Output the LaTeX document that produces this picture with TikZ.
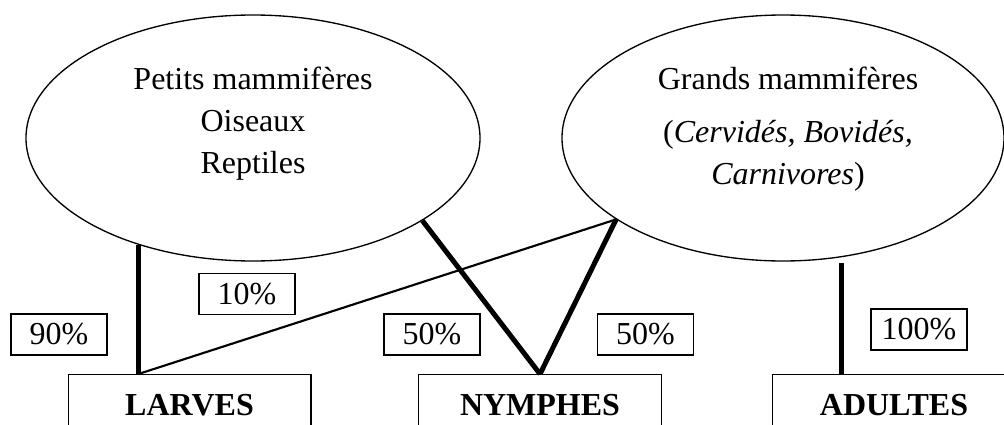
\documentclass[tikz,border=0pt]{standalone}
\usepackage{fontspec}
\setmainfont{Liberation Serif}
\usepackage{tikz}
\usetikzlibrary{shapes,positioning}
\tikzstyle{host} = [ellipse, draw, line width=1pt, inner sep=0pt]
\tikzstyle{hosttext} = [align=center, inner sep=0pt, anchor=north, font=\fontsize{24pt}{31.5pt}\selectfont]
\tikzstyle{stage} = [rectangle, draw, line width=1pt, minimum width=182pt, minimum height=45pt, inner sep=0pt, anchor=north, font=\fontsize{24pt}{31.5pt}\selectfont\bfseries]
\tikzstyle{pct} = [rectangle, draw, line width=1pt, minimum width=72pt, minimum height=30.75pt, inner sep=0pt, font=\fontsize{24pt}{31.5pt}\selectfont]
\tikzstyle{heavy} = [line width=3.75pt]
\tikzstyle{light} = [line width=1.6pt]

\begin{document}
\begin{tikzpicture}[x=0.75pt, y=-0.75pt]
\useasboundingbox (0,0) rectangle (1004,425);
\clip (0,0) rectangle (1004,425);

% Hosts
\node (pm) [host, minimum width=340.5pt, minimum height=184.5pt] at (253,138) {};
\node (pmtext) [hosttext] at (253,67) {Petits mammifères\\Oiseaux\\Reptiles};
\node (gm) [host, minimum width=331.5pt, minimum height=184.5pt] at (783,138) {};
\node (gmtext) [hosttext] at (788,67) {Grands mammifères\\[8pt](\textit{Cervidés, Bovidés,}\\\textit{Carnivores})};

% Stages - boxes run past the lower edge
\node (larves) [stage] at (189.5,374) {LARVES};
\node (nymphes) [stage] at (540,374) {NYMPHES};
\node (adultes) [stage] at (894,374) {ADULTES};

% Shares
\node (p10) [pct] at (247,294) {10\%};
\node (p90) [pct] at (59,334.5) {90\%};
\node (p50a) [pct] at (432,334.5) {50\%};
\node (p50b) [pct] at (645.5,334.5) {50\%};
\node (p100) [pct] at (919,329.5) {100\%};

% Links
\coordinate (lfoot) at (pm.-137 |- larves.north);
\draw[heavy] (pm.-137) -- (lfoot);
\draw[light] (lfoot) -- (gm.-154);
\draw[heavy] (pm.-26) -- (nymphes.north);
\draw[heavy] (gm.-154) -- (nymphes.north);
\draw[heavy, shorten <=4.5pt] (gm.-64) -- (gm.-64 |- adultes.north);
\end{tikzpicture}
\end{document}
